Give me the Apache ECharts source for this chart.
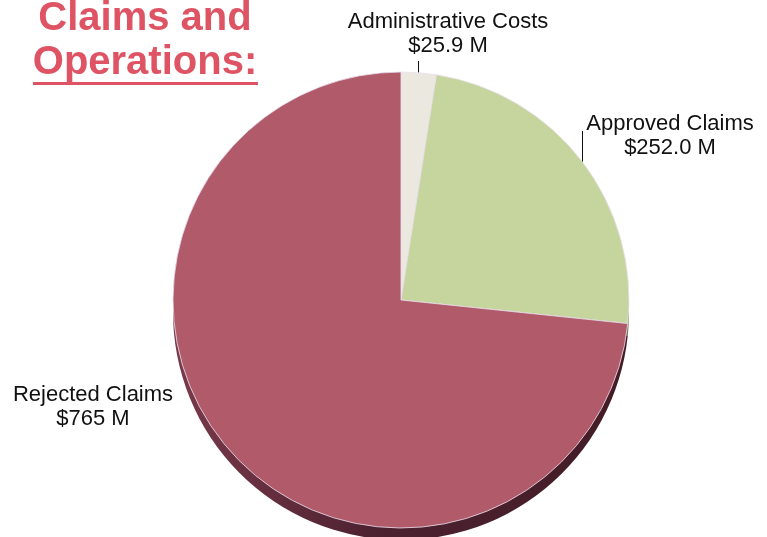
<!DOCTYPE html>
<html>
<head>
<meta charset="utf-8">
<script src="https://cdn.jsdelivr.net/npm/echarts@6/dist/echarts.min.js"></script>
<style>
  html, body { margin: 0; padding: 0; background: #fff; }
  #chart { width: 767px; height: 537px; }
</style>
</head>
<body>
<div id="chart"></div>
<script>
// Budget split, in millions of dollars
const categories = ['Administrative Costs', 'Approved Claims', 'Rejected Claims'];
const values = [25.9, 252.0, 765];
const decimals = [1, 1, 0];

const topColors = ['#ebe8df', '#c5d59d', '#b05a6a'];
const wallColors = ['#8e8a80', '#6d7a4c', '#5a2634'];

const FONT = '"Liberation Sans", Arial, sans-serif';
const CX = 401, CY = 300, R = 228, DEPTH = 12;

const chart = echarts.init(document.getElementById('chart'), null, { renderer: 'canvas' });

const labelSpots = [
  { x: 448, y: 10, line: [[418.5, 74], [418.5, 68], [418.5, 61]] },
  { x: 670, y: 112, line: [[582.5, 163], [582.5, 148], [582.5, 131]] },
  { x: 93, y: 383, line: null }
];

const topData = categories.map((name, i) => ({
  name,
  value: values[i],
  itemStyle: { color: topColors[i] },
  labelLine: { show: !!labelSpots[i].line }
}));

const wallData = categories.map((name, i) => ({
  name,
  value: values[i],
  itemStyle: {
    color: i === 2
      ? new echarts.graphic.LinearGradient(0, 0, 1, 0, [
          { offset: 0, color: '#7a3a4b' },
          { offset: 0.45, color: '#4c2130' },
          { offset: 1, color: '#431c26' }
        ])
      : wallColors[i]
  }
}));

chart.setOption({
  animation: false,
  backgroundColor: '#ffffff',
  graphic: [
    {
      type: 'text', x: 145, y: 19, z: 10,
      style: {
        text: 'Claims and', font: 'bold 40px ' + FONT, fill: '#de5464',
        textAlign: 'center', textVerticalAlign: 'middle'
      }
    },
    {
      type: 'text', x: 145, y: 63, z: 10,
      style: {
        text: 'Operations:', font: 'bold 40px ' + FONT, fill: '#de5464',
        textAlign: 'center', textVerticalAlign: 'middle'
      }
    },
    {
      type: 'rect', z: 10,
      shape: { x: 33, y: 82, width: 225, height: 3 },
      style: { fill: '#de5464' }
    }
  ],
  series: [
    {
      // side wall of the disc, shifted down to give thickness
      type: 'pie',
      silent: true,
      z: 1,
      center: [CX, CY + DEPTH],
      radius: [0, R],
      startAngle: 90,
      clockwise: true,
      label: { show: false },
      labelLine: { show: false },
      data: wallData
    },
    {
      type: 'pie',
      z: 2,
      center: [CX, CY],
      radius: [0, R],
      startAngle: 90,
      clockwise: true,
      avoidLabelOverlap: false,
      itemStyle: { borderColor: 'rgba(235,225,240,0.8)', borderWidth: 1 },
      label: {
        show: true,
        position: 'outside',
        color: '#111',
        fontFamily: FONT,
        fontSize: 22,
        lineHeight: 24,
        align: 'center',
        formatter: p => p.name + '\n$' + values[p.dataIndex].toFixed(decimals[p.dataIndex]) + ' M'
      },
      labelLine: { show: true, lineStyle: { color: '#111', width: 1 } },
      labelLayout: p => {
        const s = labelSpots[p.dataIndex];
        const out = { x: s.x, y: s.y, align: 'center', verticalAlign: 'top' };
        if (s.line) out.labelLinePoints = s.line;
        return out;
      },
      data: topData
    }
  ]
});
</script>
</body>
</html>
